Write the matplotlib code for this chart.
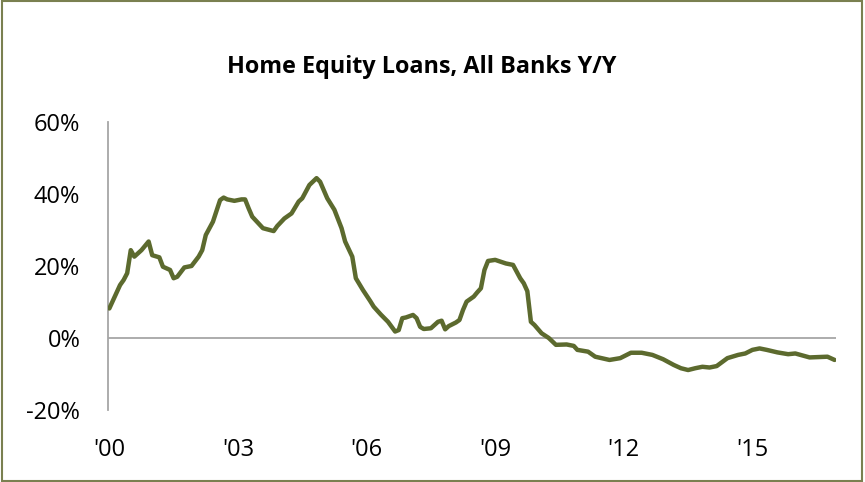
import matplotlib
matplotlib.use("Agg")
import matplotlib.pyplot as plt
from matplotlib.patches import Rectangle
import numpy as np

# month index from Jan 2000
months = [0, 3, 4, 5, 6, 7, 9, 11, 12, 14, 15, 17, 18, 19, 21, 23, 25, 26, 27, 29,
          31, 32, 33, 35, 37, 38, 39, 40, 43, 46, 47, 49, 51, 53, 54, 56, 58, 59, 61, 63,
          65, 66, 68, 69, 71, 73, 74, 76, 78, 80, 81, 82, 83, 85, 86, 87, 88, 90, 92, 93,
          94, 95, 97, 98, 99, 100, 102, 103, 104, 105, 106, 108, 111, 113, 115, 116, 117, 118, 119, 121,
          123, 125, 128, 130, 131, 134, 136, 140, 143, 146, 149, 152, 155, 158, 160, 162, 164, 166, 168, 170,
          173, 176, 178, 180, 182, 184, 187, 190, 192, 196, 201, 203]
values = [8.2, 14.7, 16.1, 18.0, 24.4, 22.6, 24.4, 26.8, 23.0, 22.4, 19.8, 18.9, 16.6, 17.0, 19.6, 20.0, 22.6, 24.4, 28.6, 32.3,
          38.3, 39.0, 38.5, 38.1, 38.5, 38.5, 36.0, 33.7, 30.5, 29.7, 31.1, 33.2, 34.6, 37.9, 38.8, 42.5, 44.4, 43.4, 38.8, 35.6,
          30.5, 26.8, 22.6, 16.6, 13.3, 10.3, 8.7, 6.5, 4.5, 1.8, 2.2, 5.5, 5.7, 6.4, 5.5, 3.1, 2.5, 2.7, 4.5, 4.8,
          2.4, 3.3, 4.3, 5.0, 7.8, 10.1, 11.5, 12.7, 13.8, 18.9, 21.4, 21.7, 20.7, 20.3, 16.6, 15.2, 13.0, 4.5, 3.6, 1.3,
          0.0, -1.9, -1.8, -2.2, -3.3, -3.8, -5.2, -6.1, -5.6, -4.1, -4.1, -4.7, -5.9, -7.5, -8.4, -8.9, -8.4, -8.0, -8.2, -7.8,
          -5.6, -4.7, -4.3, -3.3, -2.9, -3.3, -4.0, -4.5, -4.3, -5.4, -5.2, -6.1]

tick_years = [2000, 2003, 2006, 2009, 2012, 2015]
tick_labels = ["'00", "'03", "'06", "'09", "'12", "'15"]
y_ticks = [-20, 0, 20, 40, 60]
y_labels = ["-20%", "0%", "20%", "40%", "60%"]
title = "Home Equity Loans, All Banks Y/Y"

plt.rcParams['font.family'] = ['Open Sans', 'DejaVu Sans']

fig = plt.figure(figsize=(8.65, 4.82), dpi=100)
ax = fig.add_axes([0.1249, 0.1494, 0.8416, 0.5975])

x = 2000 + np.array(months) / 12.0
ax.plot(x, values, color='#5c6a2e', lw=3.2, solid_joinstyle='round', solid_capstyle='round', zorder=3)
ax.axhline(0, color='#a6a6a6', lw=1.3, zorder=2)

ax.set_xlim(1999.97, 2016.95)
ax.set_ylim(-20, 60)
ax.set_xticks(tick_years)
ax.set_xticklabels(tick_labels)
ax.set_yticks(y_ticks)
ax.set_yticklabels(y_labels)
ax.tick_params(axis='both', length=0, labelsize=17, colors='black')
ax.tick_params(axis='y', pad=20)
ax.tick_params(axis='x', pad=20)
for s in ['top', 'right', 'bottom']:
    ax.spines[s].set_visible(False)
ax.spines['left'].set_color('#a6a6a6')
ax.spines['left'].set_linewidth(1.3)

fig.text(0.487, 0.861, title, ha='center', va='center', fontsize=16.8, fontweight='bold')

fig.patches.append(Rectangle((0.002, 0.003), 0.995, 0.994, transform=fig.transFigure,
                             fill=False, edgecolor='#7a8050', lw=1.5))

fig.savefig("out.png", dpi=100)
